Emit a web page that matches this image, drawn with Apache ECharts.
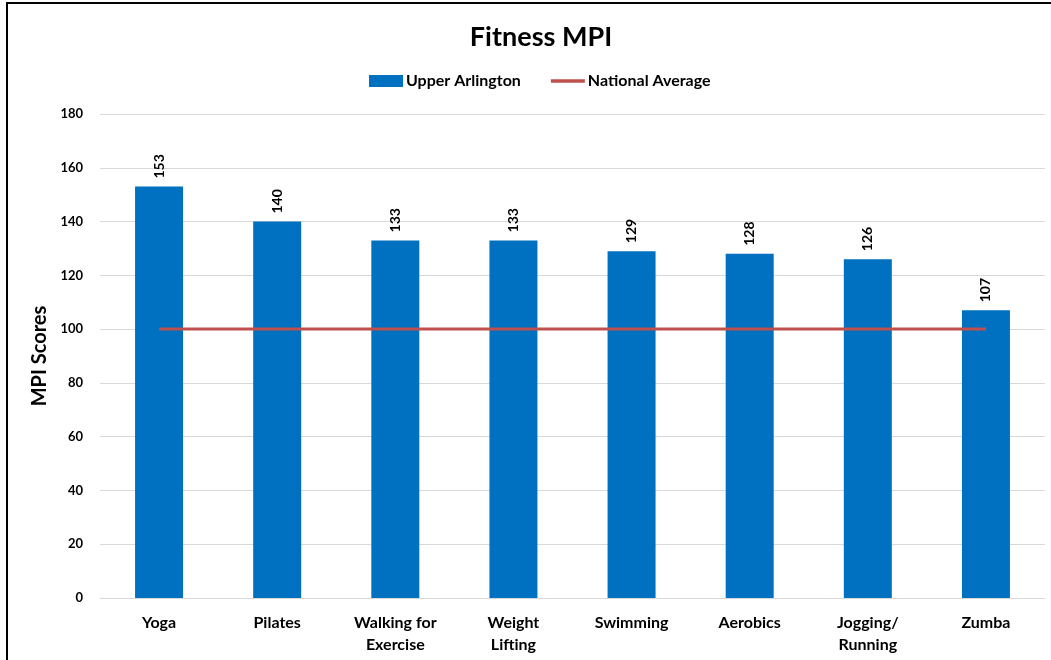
<!DOCTYPE html>
<html>
<head>
<meta charset="utf-8">
<script src="https://cdn.jsdelivr.net/npm/echarts@6/dist/echarts.min.js"></script>
<style>
  html, body { margin: 0; padding: 0; background: #fff; }
  #chart { width: 1051px; height: 660px; }
</style>
</head>
<body>
<div id="chart"></div>
<script>
// Fitness activity MPI scores
const categories = ['Yoga', 'Pilates', 'Walking for\nExercise', 'Weight\nLifting', 'Swimming', 'Aerobics', 'Jogging/\nRunning', 'Zumba'];
const upperArlington = [153, 140, 133, 133, 129, 128, 126, 107];
const nationalAverage = [100, 100, 100, 100, 100, 100, 100, 100];
const yTicks = { min: 0, max: 180, interval: 20 };

const FONT = 'Lato, "Open Sans", sans-serif';

const chart = echarts.init(document.getElementById('chart'), null, { renderer: 'canvas' });
chart.setOption({
  animation: false,
  backgroundColor: '#ffffff',
  title: {
    text: 'Fitness MPI',
    left: 536,
    textAlign: 'center',
    top: 19,
    textStyle: { fontFamily: FONT, fontSize: 27, fontWeight: 'bold', color: '#000' }
  },
  legend: {
    top: 68,
    left: 364,
    itemGap: 30,
    itemWidth: 34,
    itemHeight: 12,
    textStyle: { fontFamily: FONT, fontSize: 16, fontWeight: 'bold', color: '#000', padding: [0, 0, 0, -2] },
    data: [
      { name: 'Upper Arlington', icon: 'rect' },
      { name: 'National Average', icon: 'path://M0,0 L10,0 L10,1 L0,1 Z' }
    ]
  },
  grid: { left: 100, right: 6, top: 114, bottom: 62 },
  xAxis: {
    type: 'category',
    data: categories,
    axisTick: { show: false },
    axisLine: { lineStyle: { color: '#d9d9d9', width: 1 } },
    axisLabel: {
      interval: 0,
      margin: 14,
      lineHeight: 22,
      fontFamily: FONT, fontSize: 16, fontWeight: 'bold', color: '#000'
    }
  },
  yAxis: {
    type: 'value',
    min: yTicks.min, max: yTicks.max, interval: yTicks.interval,
    name: 'MPI Scores',
    nameLocation: 'middle',
    nameGap: 50,
    nameTextStyle: { fontFamily: FONT, fontSize: 20, fontWeight: 'bold', color: '#000' },
    axisLine: { show: false },
    axisTick: { show: false },
    splitLine: { lineStyle: { color: '#d9d9d9', width: 1 } },
    axisLabel: { margin: 17, fontFamily: FONT, fontSize: 13, fontWeight: 'bold', color: '#000' }
  },
  series: [
    {
      name: 'Upper Arlington',
      type: 'bar',
      data: upperArlington,
      barWidth: 48,
      itemStyle: { color: '#0070C0' },
      label: {
        show: true,
        position: 'top',
        rotate: 90,
        align: 'left',
        verticalAlign: 'middle',
        distance: 8,
        fontFamily: FONT, fontSize: 14, fontWeight: 'bold', color: '#000'
      },
      z: 2
    },
    {
      name: 'National Average',
      type: 'line',
      data: nationalAverage,
      symbol: 'none',
      lineStyle: { color: '#C0504D', width: 3 },
      itemStyle: { color: '#C0504D' },
      z: 3
    }
  ],
  graphic: [
    {
      type: 'rect',
      shape: { x: 7, y: 3, width: 1060, height: 700 },
      style: { fill: 'none', stroke: '#000', lineWidth: 2 },
      silent: true
    }
  ]
});
</script>
</body>
</html>
